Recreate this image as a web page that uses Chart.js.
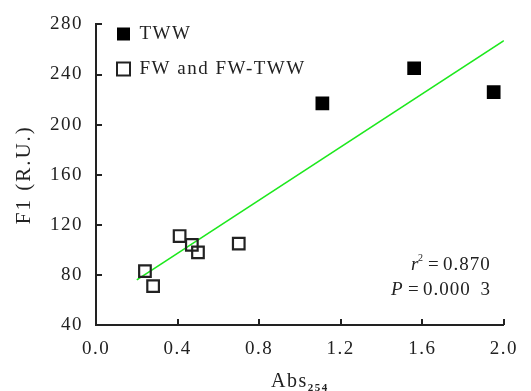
<!DOCTYPE html>
<html>
<head>
<meta charset="utf-8">
<script src="https://cdn.jsdelivr.net/npm/chart.js@4/dist/chart.umd.min.js"></script>
<style>
  html, body { margin: 0; padding: 0; background: #fff; }
  #wrap { width: 531px; height: 391px; }
</style>
</head>
<body>
<div id="wrap"><canvas id="c" width="531" height="391"></canvas></div>
<script>
// ---- data ----
const twwX = [1.11, 1.56, 1.95];
const twwY = [217, 245, 226];
const fwX = [0.24, 0.28, 0.41, 0.47, 0.50, 0.70];
const fwY = [83, 71, 111, 104, 98, 105];
const fitX = [0.2, 2.0];
const fitY = [76, 267];
const xTicks = [0.0, 0.4, 0.8, 1.2, 1.6, 2.0];
const yTicks = [40, 80, 120, 160, 200, 240, 280];
const seriesNames = ['TWW', 'FW and FW-TWW'];
const yTitle = 'F1 (R.U.)';
const xTitleMain = 'Abs';
const xTitleSub = '254';
const statR2 = '0.870';
const statP = '0.000 3';

const FONT = '"Liberation Serif", "Times New Roman", serif';
const INK = '#222222';
const LS = '1.5px';

const toPts = (xs, ys) => xs.map((x, i) => ({ x: x, y: ys[i] }));

const spacingPlugin = {
  id: 'spacing',
  beforeInit(chart) { chart.ctx.letterSpacing = LS; },
  beforeLayout(chart) { chart.ctx.letterSpacing = LS; },
  beforeDraw(chart) { chart.ctx.letterSpacing = LS; }
};

const legendShift = {
  id: 'legendShift',
  afterLayout(chart) {
    const lg = chart.legend;
    if (lg) {
      lg.left = chart.chartArea.left + 5;
      lg.top = chart.chartArea.top - 16;
    }
  }
};

const tickPlugin = {
  id: 'inwardTicks',
  afterDraw(chart) {
    const { ctx, chartArea, scales } = chart;
    ctx.save();
    ctx.strokeStyle = INK;
    ctx.lineWidth = 2;
    ctx.beginPath();
    scales.x.ticks.forEach(t => {
      const px = Math.round(scales.x.getPixelForValue(t.value));
      ctx.moveTo(px, chartArea.bottom);
      ctx.lineTo(px, chartArea.bottom - 6);
    });
    scales.y.ticks.forEach(t => {
      const py = Math.round(scales.y.getPixelForValue(t.value));
      ctx.moveTo(chartArea.left, py);
      ctx.lineTo(chartArea.left + 6, py);
    });
    ctx.stroke();

    ctx.fillStyle = INK;
    ctx.textBaseline = 'alphabetic';

    // y axis title (rotated)
    ctx.save();
    ctx.letterSpacing = '2px';
    ctx.font = '21px ' + FONT;
    ctx.translate(chartArea.left - 72, (chartArea.top + chartArea.bottom) / 2);
    ctx.rotate(-Math.PI / 2);
    ctx.textAlign = 'center';
    ctx.textBaseline = 'middle';
    ctx.fillText(yTitle, 0, 0);
    ctx.restore();

    // x axis title with subscript
    ctx.letterSpacing = LS;
    ctx.font = '20px ' + FONT;
    const wMain = ctx.measureText(xTitleMain).width;
    ctx.font = 'bold 11px ' + FONT;
    const wSub = ctx.measureText(xTitleSub).width;
    const cx = (chartArea.left + chartArea.right) / 2;
    const startX = cx - (wMain + wSub) / 2;
    ctx.font = '20px ' + FONT;
    ctx.textAlign = 'left';
    ctx.fillText(xTitleMain, startX, chartArea.bottom + 62);
    ctx.font = 'bold 11px ' + FONT;
    ctx.fillText(xTitleSub, startX + wMain, chartArea.bottom + 66);

    // statistics annotation
    ctx.letterSpacing = '1px';
    const R = chartArea.right;
    const y1 = chartArea.bottom - 55;
    ctx.font = 'italic 19px ' + FONT;
    ctx.fillText('r', R - 93, y1);
    ctx.font = '10px ' + FONT;
    ctx.fillText('2', R - 86, y1 - 9);
    ctx.font = '19px ' + FONT;
    ctx.fillText('=', R - 76, y1);
    ctx.fillText(statR2, R - 61, y1);
    const y2 = chartArea.bottom - 30;
    ctx.font = 'italic 19px ' + FONT;
    ctx.fillText('P', R - 113, y2);
    ctx.font = '19px ' + FONT;
    ctx.fillText('=', R - 96, y2);
    ctx.wordSpacing = '4px';
    ctx.fillText(statP, R - 81, y2);
    ctx.restore();
  }
};

new Chart(document.getElementById('c'), {
  type: 'scatter',
  data: {
    datasets: [
      {
        label: seriesNames[0],
        data: toPts(twwX, twwY),
        pointStyle: 'rect',
        pointRadius: 9.7,
        pointHoverRadius: 9.7,
        backgroundColor: '#000000',
        borderColor: '#000000',
        borderWidth: 0,
        order: 1
      },
      {
        label: seriesNames[1],
        data: toPts(fwX, fwY),
        pointStyle: 'rect',
        pointRadius: 8.2,
        pointHoverRadius: 8.2,
        backgroundColor: 'rgba(255,255,255,0)',
        borderColor: INK,
        borderWidth: 2.2,
        order: 1
      },
      {
        label: 'fit',
        type: 'line',
        data: toPts(fitX, fitY),
        borderColor: '#1de81d',
        borderWidth: 1.6,
        pointRadius: 0,
        fill: false,
        order: 2
      }
    ]
  },
  options: {
    responsive: false,
    devicePixelRatio: 1,
    animation: false,
    layout: { padding: { top: 23, right: 25, left: 0, bottom: 0 } },
    plugins: {
      tooltip: { enabled: false },
      legend: {
        position: 'chartArea',
        align: 'start',
        labels: {
          usePointStyle: true,
          boxWidth: 13,
          boxHeight: 13,
          padding: 16,
          color: INK,
          font: { family: FONT, size: 19 },
          generateLabels: (chart) => [
            { text: seriesNames[0], fillStyle: '#000', strokeStyle: '#000', lineWidth: 0, pointStyle: 'rect', datasetIndex: 0, fontColor: INK },
            { text: seriesNames[1], fillStyle: '#fff', strokeStyle: INK, lineWidth: 2, pointStyle: 'rect', datasetIndex: 1, fontColor: INK }
          ]
        }
      }
    },
    scales: {
      x: {
        type: 'linear',
        min: 0, max: 2,
        afterBuildTicks: (s) => { s.ticks = xTicks.map(v => ({ value: v })); },
        afterFit: (s) => { s.height = 66; },
        ticks: {
          color: INK,
          padding: 13,
          font: { family: FONT, size: 19 },
          callback: (v) => Number(v).toFixed(1)
        },
        grid: { display: false, drawTicks: false },
        border: { display: true, color: INK, width: 2 },
        title: { display: false }
      },
      y: {
        type: 'linear',
        min: 40, max: 280,
        afterBuildTicks: (s) => { s.ticks = yTicks.map(v => ({ value: v })); },
        afterFit: (s) => { s.width = 96; },
        ticks: {
          color: INK,
          padding: 13,
          font: { family: FONT, size: 19 }
        },
        grid: { display: false, drawTicks: false },
        border: { display: true, color: INK, width: 2 },
        title: { display: false }
      }
    }
  },
  plugins: [spacingPlugin, legendShift, tickPlugin]
});
</script>
</body>
</html>
